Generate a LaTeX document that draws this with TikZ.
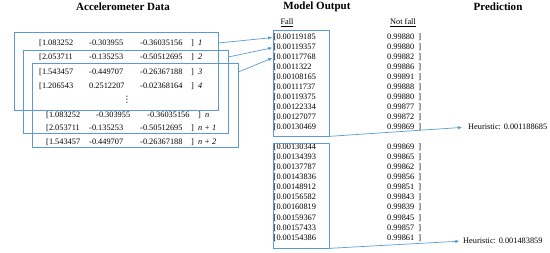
\documentclass[tikz,border=0pt]{standalone}
\usepackage{fontspec}
\setmainfont{Liberation Serif}
\newfontfamily\symfont{DejaVu Sans}
\usetikzlibrary{arrows.meta,fit}
\definecolor{boxblue}{RGB}{91,155,213}

\begin{document}
\begin{tikzpicture}[x=0.03cm,y=-0.03cm,
  cell/.style={anchor=west,inner sep=0pt,font=\fontsize{7.1}{8}\selectfont},
  title/.style={font=\fontsize{9.4}{11}\selectfont\bfseries},
  frame/.style={draw=boxblue,line width=0.6pt,inner sep=0pt},
  link/.style={draw=boxblue,line width=0.6pt,-{Latex[length=3.5pt,width=3pt]}}]
  \useasboundingbox (0,0) rectangle (550,253);
  % titles
  \node[title] (tacc) at (123,7) {Accelerometer Data};
  \node[title] (tmod) at (317,7) {Model Output};
  \node[title] (tpred) at (498,7) {Prediction};
  % accelerometer rows
  \foreach \n/\y/\s/\t/\a/\b/\c/\lab in {
      1/43/0/0/1.083252/-0.303955/-0.36035156/1,
      2/57/0/0/2.053711/-0.135253/-0.50512695/2,
      3/72/0/0/1.543457/-0.449707/-0.26367188/3,
      4/86/0/0/1.206543/0.2512207/-0.02368164/4,
      n/115/7/7/1.083252/-0.303955/-0.36035156/n,
      n1/128/7/0/2.053711/-0.135253/-0.50512695/n + 1,
      n2/142/7/0/1.543457/-0.449707/-0.26367188/n + 2}
  {
    \node[cell] (r\n) at (39+\s,\y) {[\a};
    \node[cell] at (89+\t,\y) {\b};
    \node[cell] at (140+\t,\y) {\c};
    \node[cell] at (191+\t,\y) {]\hspace{3.5pt}\textit{\lab}};
  }
  \node[cell,anchor=center,font=\fontsize{7.5}{8}\selectfont\symfont] (dots) at (127,99.5) {⋮};
  % windows
  \node[frame,fit={(14,32) (218,110)}] (win1) {};
  \node[frame,fit={(23,50) (228,133)}] (win2) {};
  \node[frame,fit={(32,63) (238,147)}] (win3) {};
  % model output
  \node[cell,anchor=center] (hfall) at (287,23) {\underline{Fall}};
  \node[cell,anchor=center] (hnot) at (403,23) {\underline{Not fall}};
  \foreach \f/\g [count=\i] in {0.00119185/0.99880,0.00119357/0.99880,
      0.00117768/0.99882,0.0011322/0.99886,0.00108165/0.99891,
      0.00111737/0.99888,0.00119375/0.99880,0.00122334/0.99877,
      0.00127077/0.99872,0.00130469/0.99869}
  {
    \node[cell] (fa\i) at (273.5,27.5+10*\i) {[\f};
    \node[cell] at (387,27.5+10*\i) {\g\ \ ]};
  }
  \foreach \f/\g [count=\i] in {0.00130344/0.99869,0.00134393/0.99865,
      0.00137787/0.99862,0.00143836/0.99856,0.00148912/0.99851,
      0.00156582/0.99843,0.00160819/0.99839,0.00159367/0.99845,
      0.00157433/0.99857,0.00154386/0.99861}
  {
    \node[cell] (fb\i) at (273.5,136.9+10.1*\i) {[\f};
    \node[cell] at (387,136.9+10.1*\i) {\g\ \ ]};
  }
  \node[frame,fit={(273,30) (329,136)}] (fallA) {};
  \node[frame,fit={(273,143) (329,248)}] (fallB) {};
  % prediction
  \node[cell] (h1) at (468,127) {Heuristic: 0.001188685};
  \node[cell] (h2) at (463,241) {Heuristic: 0.001483859};
  % connectors
  \draw[link,shorten >=1pt] (win1.east |- r1) -- (fa1.west);
  \draw[link,shorten >=1pt] (win2.east |- r2) -- (fa2.west);
  \draw[link,shorten >=1pt] (win3.east |- r3) -- (fa3.west);
  \draw[link,shorten >=5pt] (fallA.south east) -- (h1.west);
  \draw[link,shorten >=3pt] (fallB.south east) -- (h2.west);
\end{tikzpicture}
\end{document}
